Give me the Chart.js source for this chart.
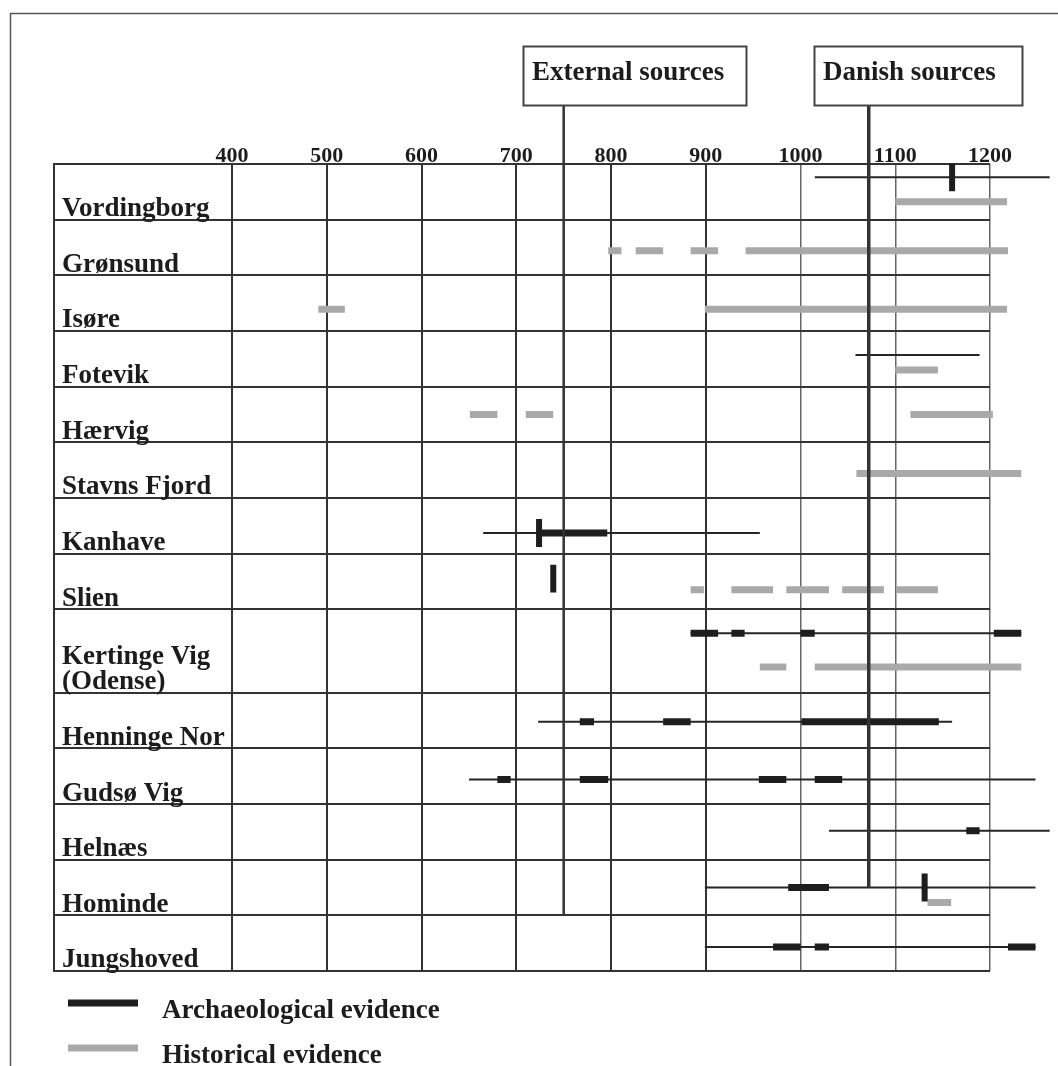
<!DOCTYPE html>
<html>
<head>
<meta charset="utf-8">
<script src="https://cdn.jsdelivr.net/npm/chart.js@4.4.1/dist/chart.umd.min.js"></script>
<style>
  html, body { margin: 0; padding: 0; background: #fff; }
  canvas { display: block; }
</style>
</head>
<body>
<canvas id="harbours" width="1058" height="1066"></canvas>
<script>
// sites, top to bottom (two-line label gets a taller row)
const sites = ["Vordingborg", "Grønsund", "Isøre", "Fotevik", "Hærvig", "Stavns Fjord", "Kanhave", "Slien",
    ["Kertinge Vig", "(Odense)"], "Henninge Nor", "Gudsø Vig", "Helnæs", "Hominde", "Jungshoved"];

const yearTicks = [400, 500, 600, 700, 800, 900, 1000, 1100, 1200];

// thin black line: full dated range per site
const spans = [[1015, 1263], null, null, [1058, 1189], null, null, [665, 957], null,
    [884, 1233], [723, 1160], [650, 1248], [1030, 1263], [899, 1248], [899, 1248]];

// thick black: archaeological evidence
const archaeological = [null, null, null, null, null, null,
    [[723, 796]],
    null,
    [[884, 913], [927, 941], [1000, 1015], [1204, 1233]],
    [[767, 782], [855, 884], [1001, 1146]],
    [[680, 694], [767, 797], [956, 985], [1015, 1044]],
    [[1175, 1189]],
    [[987, 1030]],
    [[971, 1000], [1015, 1030], [1219, 1248]]];

// grey: historical evidence
const historical = [
    [[1100, 1218]],
    [[797, 811], [826, 855], [884, 913], [942, 1219]],
    [[491, 519], [899, 1218]],
    [[1100, 1145]],
    [[651, 680], [710, 739], [1116, 1203]],
    [[1059, 1233]],
    null,
    [[884, 898], [927, 971], [985, 1030], [1044, 1088], [1101, 1145]],
    [[957, 985], [1015, 1233]],
    null, null, null,
    [[1134, 1159]],
    null];

// single dated finds (short vertical bars)
const markers = [1160, null, null, null, null, null, 724, 739, null, null, null, null, 1131, null];

const sourceNames = ["External sources", "Danish sources"];
const sourceYears = [750, 1072];

// layout: where the lines sit inside each row (row units from row top)
const archLane = [0.24, 0.5, 0.5, 0.43, 0.5, 0.5, 0.63, 0.45, 0.43, 0.52, 0.56, 0.48, 0.5, 0.57];
const histLane = [0.68, 0.56, 0.61, 0.70, 0.5, 0.56, 0.6, 0.65, 1.04, 0.6, 0.6, 0.6, 0.77, 0.6];
const sourceBoxes = [{ left: 523, width: 223 }, { left: 814, width: 208 }];

const serif = '"Liberation Serif", "Times New Roman", serif';
const ink = "#1c1c1c";
const black = "#1e1e1e";
const grey = "#a9a9a9";

const rowSpan = sites.map(s => Array.isArray(s) ? 1.5 : 1);
const rowTop = [];
let acc = 0;
rowSpan.forEach(h => { rowTop.push(acc); acc += h; });
const boundaries = [0].concat(rowTop.map((t, i) => t + rowSpan[i]));

function segments(list, lanes) {
    const pts = [];
    list.forEach((row, i) => {
        if (!row) return;
        const y = rowTop[i] + lanes[i];
        row.forEach(([a, b]) => {
            pts.push({ x: a, y: y }, { x: b, y: y }, { x: b, y: null });
        });
    });
    return pts;
}

const markerPts = [];
markers.forEach((m, i) => {
    if (m === null) return;
    const y = rowTop[i] + archLane[i];
    markerPts.push({ x: m, y: y - 0.25 }, { x: m, y: y + 0.25 }, { x: m, y: null });
});

const lineStyle = { pointRadius: 0, borderCapStyle: "butt", spanGaps: false, clip: false, tension: 0, fill: false };

// boxes, connectors, legend and page frame
const decor = {
    id: "decor",
    afterDraw(chart) {
        const { ctx, scales: { x, y } } = chart;
        ctx.save();

        ctx.strokeStyle = "#555";
        ctx.lineWidth = 1.5;
        ctx.beginPath();
        ctx.moveTo(10.5, 1066);
        ctx.lineTo(10.5, 13.5);
        ctx.lineTo(1058, 13.5);
        ctx.stroke();

        const hominde = sites.indexOf("Hominde");
        const ends = [rowTop[hominde] + rowSpan[hominde], rowTop[hominde] + archLane[hominde]];
        sourceNames.forEach((name, i) => {
            const px = x.getPixelForValue(sourceYears[i]);
            const box = sourceBoxes[i];
            ctx.strokeStyle = "#333";
            ctx.lineWidth = i === 0 ? 2.5 : 3.5;
            ctx.beginPath();
            ctx.moveTo(px, 105);
            ctx.lineTo(px, y.getPixelForValue(ends[i]));
            ctx.stroke();

            ctx.fillStyle = "#fff";
            ctx.fillRect(box.left, 46, box.width, 59);
            ctx.strokeStyle = "#444";
            ctx.lineWidth = 2;
            ctx.strokeRect(box.left + 0.5, 46.5, box.width, 59);
            ctx.fillStyle = ink;
            ctx.font = "bold 27px " + serif;
            ctx.textAlign = "left";
            ctx.textBaseline = "alphabetic";
            ctx.fillText(name, box.left + 9, 80);
        });

        // legend
        const keys = chart.data.datasets.filter(d => d.legend);
        keys.forEach((d, i) => {
            const ly = 1003 + i * 45;
            ctx.strokeStyle = d.borderColor;
            ctx.lineWidth = 7;
            ctx.beginPath();
            ctx.moveTo(68, ly);
            ctx.lineTo(138, ly);
            ctx.stroke();
            ctx.fillStyle = ink;
            ctx.font = "bold 27px " + serif;
            ctx.fillText(d.label, 162, ly + 15);
        });
        ctx.restore();
    }
};

new Chart(document.getElementById("harbours"), {
    type: "line",
    data: {
        datasets: [
            Object.assign({ label: "Dated finds", data: markerPts, borderColor: black, borderWidth: 6 }, lineStyle),
            Object.assign({ label: "Archaeological evidence", legend: true, data: segments(archaeological, archLane), borderColor: black, borderWidth: 7 }, lineStyle),
            Object.assign({ label: "Historical evidence", legend: true, data: segments(historical, histLane), borderColor: grey, borderWidth: 7 }, lineStyle),
            Object.assign({ label: "Date range", data: segments(spans.map(s => s ? [s] : null), archLane), borderColor: "#262626", borderWidth: 2 }, lineStyle)
        ]
    },
    options: {
        responsive: false,
        animation: false,
        events: [],
        layout: { padding: { left: 54, right: 68, top: 134, bottom: 95 } },
        plugins: { legend: { display: false }, tooltip: { enabled: false } },
        scales: {
            x: {
                type: "linear",
                position: "top",
                min: 212,
                max: 1200,
                afterBuildTicks: s => { s.ticks = yearTicks.map(v => ({ value: v })); },
                afterFit: s => { s.height = 30; },
                ticks: {
                    autoSkip: false,
                    maxRotation: 0,
                    padding: -1,
                    color: ink,
                    font: { family: serif, size: 22, weight: "bold", lineHeight: 0.8 },
                    callback: v => String(v)
                },
                grid: {
                    drawTicks: false,
                    color: c => c.tick && c.tick.value >= 1000 ? "#666" : "#333",
                    lineWidth: c => c.tick && c.tick.value >= 1000 ? 1.5 : 2
                },
                border: { display: false }
            },
            y: {
                type: "linear",
                reverse: true,
                min: 0,
                max: boundaries[boundaries.length - 1],
                afterBuildTicks: s => { s.ticks = boundaries.map(v => ({ value: v })); },
                afterFit: s => { s.width = 0; },
                ticks: {
                    mirror: true,
                    padding: 8,
                    labelOffset: -10.5,
                    autoSkip: false,
                    color: ink,
                    font: { family: serif, size: 27, weight: "bold", lineHeight: 0.95 },
                    callback: (v, i) => {
                        if (i === 0) return "";
                        const s = sites[i - 1];
                        return Array.isArray(s) ? s.concat([""]) : s;
                    }
                },
                grid: { drawTicks: false, color: "#333", lineWidth: 2 },
                border: { display: true, color: "#333", width: 2 }
            }
        }
    },
    plugins: [decor]
});
</script>
</body>
</html>
